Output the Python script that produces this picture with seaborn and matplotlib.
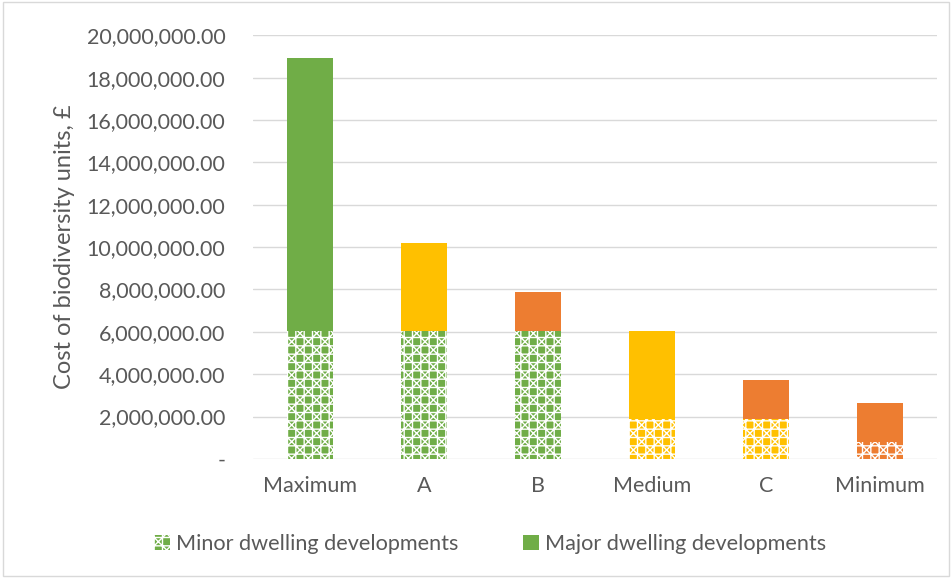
import matplotlib
matplotlib.use("Agg")
import matplotlib.pyplot as plt
from matplotlib.patches import Patch
from matplotlib.ticker import FuncFormatter, MultipleLocator
import seaborn as sns
import pandas as pd

# Scenario data (GBP)
categories = ["Maximum", "A", "B", "Medium", "C", "Minimum"]
minor_cost = [6050000, 6050000, 6050000, 1890000, 1890000, 820000]
total_cost = [18910000, 10190000, 7880000, 6040000, 3730000, 2640000]
minor_colors = ["#70AD47", "#70AD47", "#70AD47", "#FFC000", "#FFC000", "#ED7D31"]
major_colors = ["#70AD47", "#FFC000", "#ED7D31", "#FFC000", "#ED7D31", "#ED7D31"]
legend_labels = ["Minor dwelling developments", "Major dwelling developments"]

df = pd.DataFrame({"scenario": categories, "minor": minor_cost, "total": total_cost})

sns.set_theme(style="white")
plt.rcParams["font.family"] = ["Lato", "DejaVu Sans"]
plt.rcParams["hatch.linewidth"] = 1.0
text_color = "#595959"
minor_hatch = "++xx"

fig = plt.figure(figsize=(9.52, 5.78), dpi=100)
ax = fig.add_axes([0.266, 0.206, 0.718, 0.733])

# Full stack height (major segment shows above the minor one)
sns.barplot(data=df, x="scenario", y="total", hue="scenario",
            palette=dict(zip(categories, major_colors)),
            width=0.4, saturation=1, legend=False, ax=ax, linewidth=0)
n = len(ax.patches)
# Minor segment, hatched
sns.barplot(data=df, x="scenario", y="minor", hue="scenario",
            palette=dict(zip(categories, minor_colors)),
            width=0.4, saturation=1, legend=False, ax=ax, linewidth=0)
for p in ax.patches[n:]:
    p.set_hatch(minor_hatch)
    p.set_edgecolor("white")
    p.set_linewidth(0)

ax.set_ylim(0, 20000000)
ax.set_xlim(-0.5, len(categories) - 0.5)
ax.yaxis.set_major_locator(MultipleLocator(2000000))
ax.yaxis.set_major_formatter(FuncFormatter(lambda v, _: "-" if v == 0 else f"{v:,.2f}"))
ax.grid(axis="y", color="#D9D9D9", linewidth=1)
ax.set_axisbelow(True)
for s in ax.spines.values():
    s.set_visible(False)
ax.tick_params(axis="both", length=0, labelsize=15.5, colors=text_color)
ax.tick_params(axis="y", pad=20)
ax.tick_params(axis="x", pad=12)
ax.set_xlabel("")
ax.set_ylabel("Cost of biodiversity units, £", fontsize=17, color=text_color, labelpad=8)

handles = [
    Patch(facecolor="#70AD47", edgecolor="white", hatch=minor_hatch, linewidth=0),
    Patch(facecolor="#70AD47", edgecolor="#70AD47", linewidth=0),
]
fig.legend(handles, legend_labels, loc="center", bbox_to_anchor=(0.515, 0.059),
           ncol=2, frameon=False, fontsize=15.6, labelcolor=text_color,
           handlelength=0.7, handleheight=0.7, handletextpad=0.3, columnspacing=3.0)

# Light outer border
fig.patches.append(plt.Rectangle((0.003, 0.003), 0.994, 0.994, transform=fig.transFigure,
                                 fill=False, edgecolor="#D9D9D9", linewidth=1))

fig.savefig("out.png", dpi=100, facecolor="white")
